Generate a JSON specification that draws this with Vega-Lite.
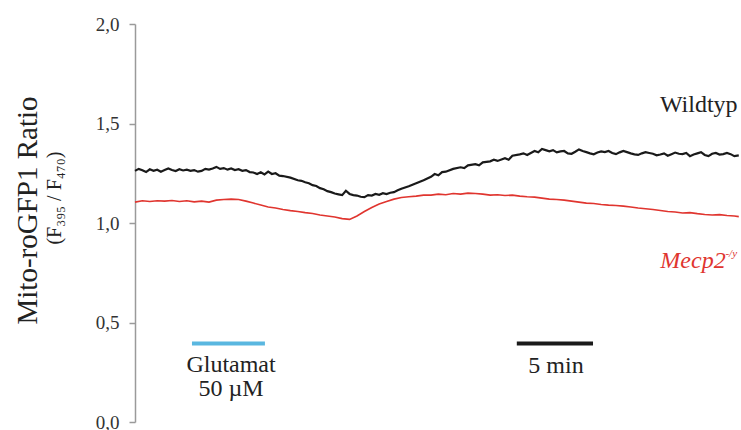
{
  "$schema": "https://vega.github.io/schema/vega-lite/v6.json",
  "width": 606,
  "height": 398,
  "autosize": {"type": "none"},
  "padding": {"left": 135, "top": 24, "right": 0, "bottom": 8},
  "background": "white",
  "config": {
    "view": {"stroke": null},
    "font": "Liberation Serif, Times New Roman, DejaVu Serif, serif",
    "text": {"font": "Liberation Serif, Times New Roman, DejaVu Serif, serif"}
  },
  "datasets": {
    "wild": [
      {"t": 0, "v": 1.262}, {"t": 0.25, "v": 1.272}, {"t": 0.5, "v": 1.265}, {"t": 0.75, "v": 1.256}, {"t": 1, "v": 1.27},
      {"t": 1.25, "v": 1.262}, {"t": 1.5, "v": 1.268}, {"t": 1.75, "v": 1.258}, {"t": 2, "v": 1.266}, {"t": 2.25, "v": 1.274},
      {"t": 2.5, "v": 1.266}, {"t": 2.75, "v": 1.261}, {"t": 3, "v": 1.27}, {"t": 3.25, "v": 1.264}, {"t": 3.5, "v": 1.268},
      {"t": 3.75, "v": 1.262}, {"t": 4, "v": 1.266}, {"t": 4.25, "v": 1.258}, {"t": 4.5, "v": 1.262}, {"t": 4.75, "v": 1.272},
      {"t": 5, "v": 1.268}, {"t": 5.25, "v": 1.274}, {"t": 5.5, "v": 1.282}, {"t": 5.75, "v": 1.272}, {"t": 6, "v": 1.276},
      {"t": 6.25, "v": 1.268}, {"t": 6.5, "v": 1.274}, {"t": 6.75, "v": 1.266}, {"t": 7, "v": 1.27}, {"t": 7.25, "v": 1.262},
      {"t": 7.5, "v": 1.266}, {"t": 7.75, "v": 1.256}, {"t": 8, "v": 1.254}, {"t": 8.25, "v": 1.246}, {"t": 8.5, "v": 1.255},
      {"t": 8.75, "v": 1.244}, {"t": 9, "v": 1.258}, {"t": 9.25, "v": 1.246}, {"t": 9.5, "v": 1.25}, {"t": 9.75, "v": 1.238},
      {"t": 10, "v": 1.236}, {"t": 10.5, "v": 1.228}, {"t": 11, "v": 1.215}, {"t": 11.25, "v": 1.212}, {"t": 11.5, "v": 1.205},
      {"t": 11.75, "v": 1.2}, {"t": 12, "v": 1.19}, {"t": 12.25, "v": 1.186}, {"t": 12.5, "v": 1.175}, {"t": 12.75, "v": 1.17},
      {"t": 13, "v": 1.16}, {"t": 13.25, "v": 1.155}, {"t": 13.5, "v": 1.148}, {"t": 13.75, "v": 1.144},
      {"t": 14, "v": 1.14}, {"t": 14.25, "v": 1.162}, {"t": 14.5, "v": 1.146}, {"t": 14.75, "v": 1.14}, {"t": 15, "v": 1.138},
      {"t": 15.25, "v": 1.132}, {"t": 15.5, "v": 1.13}, {"t": 15.75, "v": 1.14}, {"t": 16, "v": 1.138}, {"t": 16.25, "v": 1.146},
      {"t": 16.5, "v": 1.142}, {"t": 16.75, "v": 1.15}, {"t": 17, "v": 1.145}, {"t": 17.25, "v": 1.152}, {"t": 17.5, "v": 1.155},
      {"t": 17.75, "v": 1.164}, {"t": 18, "v": 1.172}, {"t": 18.5, "v": 1.185}, {"t": 19, "v": 1.2}, {"t": 19.5, "v": 1.215},
      {"t": 20, "v": 1.232}, {"t": 20.25, "v": 1.246}, {"t": 20.5, "v": 1.24}, {"t": 20.75, "v": 1.256}, {"t": 21, "v": 1.258},
      {"t": 21.5, "v": 1.272}, {"t": 22, "v": 1.28}, {"t": 22.25, "v": 1.276}, {"t": 22.5, "v": 1.29}, {"t": 23, "v": 1.296},
      {"t": 23.25, "v": 1.29}, {"t": 23.5, "v": 1.305}, {"t": 24, "v": 1.31}, {"t": 24.25, "v": 1.318}, {"t": 24.5, "v": 1.312},
      {"t": 25, "v": 1.326}, {"t": 25.25, "v": 1.318}, {"t": 25.5, "v": 1.338}, {"t": 26, "v": 1.345}, {"t": 26.25, "v": 1.35},
      {"t": 26.5, "v": 1.342}, {"t": 27, "v": 1.362}, {"t": 27.25, "v": 1.355}, {"t": 27.5, "v": 1.372}, {"t": 27.75, "v": 1.366},
      {"t": 28, "v": 1.36}, {"t": 28.25, "v": 1.366}, {"t": 28.5, "v": 1.355}, {"t": 28.75, "v": 1.36}, {"t": 29, "v": 1.362},
      {"t": 29.25, "v": 1.35}, {"t": 29.5, "v": 1.348}, {"t": 29.75, "v": 1.358}, {"t": 30, "v": 1.37}, {"t": 30.25, "v": 1.362},
      {"t": 30.5, "v": 1.356}, {"t": 30.75, "v": 1.35}, {"t": 31, "v": 1.345}, {"t": 31.25, "v": 1.354}, {"t": 31.5, "v": 1.36},
      {"t": 31.75, "v": 1.356}, {"t": 32, "v": 1.362}, {"t": 32.25, "v": 1.352}, {"t": 32.5, "v": 1.346}, {"t": 32.75, "v": 1.355},
      {"t": 33, "v": 1.362}, {"t": 33.25, "v": 1.356}, {"t": 33.5, "v": 1.35}, {"t": 33.75, "v": 1.345}, {"t": 34, "v": 1.342},
      {"t": 34.25, "v": 1.35}, {"t": 34.5, "v": 1.356}, {"t": 34.75, "v": 1.352}, {"t": 35, "v": 1.348}, {"t": 35.25, "v": 1.34},
      {"t": 35.5, "v": 1.344}, {"t": 35.75, "v": 1.35}, {"t": 36, "v": 1.338}, {"t": 36.25, "v": 1.346}, {"t": 36.5, "v": 1.354},
      {"t": 36.75, "v": 1.348}, {"t": 37, "v": 1.346}, {"t": 37.25, "v": 1.352}, {"t": 37.5, "v": 1.336}, {"t": 37.75, "v": 1.344},
      {"t": 38, "v": 1.35}, {"t": 38.25, "v": 1.356}, {"t": 38.5, "v": 1.342}, {"t": 38.75, "v": 1.336}, {"t": 39, "v": 1.348},
      {"t": 39.25, "v": 1.352}, {"t": 39.5, "v": 1.344}, {"t": 39.75, "v": 1.346}, {"t": 40, "v": 1.352}, {"t": 40.25, "v": 1.346},
      {"t": 40.5, "v": 1.336}, {"t": 40.8, "v": 1.34}
    ],
    "mecp": [
      {"t": 0, "v": 1.105}, {"t": 0.5, "v": 1.112}, {"t": 1, "v": 1.108}, {"t": 1.5, "v": 1.112},
      {"t": 2, "v": 1.11}, {"t": 2.5, "v": 1.113}, {"t": 3, "v": 1.108}, {"t": 3.5, "v": 1.112},
      {"t": 4, "v": 1.106}, {"t": 4.5, "v": 1.11}, {"t": 5, "v": 1.105}, {"t": 5.5, "v": 1.115},
      {"t": 6, "v": 1.118}, {"t": 6.5, "v": 1.12}, {"t": 7, "v": 1.118}, {"t": 7.5, "v": 1.11},
      {"t": 8, "v": 1.1}, {"t": 8.5, "v": 1.09}, {"t": 9, "v": 1.08}, {"t": 9.5, "v": 1.075},
      {"t": 10, "v": 1.068}, {"t": 10.5, "v": 1.062}, {"t": 11, "v": 1.058}, {"t": 11.5, "v": 1.052},
      {"t": 12, "v": 1.048}, {"t": 12.5, "v": 1.04}, {"t": 13, "v": 1.035}, {"t": 13.5, "v": 1.03},
      {"t": 14, "v": 1.022}, {"t": 14.5, "v": 1.018}, {"t": 15, "v": 1.035}, {"t": 15.5, "v": 1.058},
      {"t": 16, "v": 1.078}, {"t": 16.5, "v": 1.095}, {"t": 17, "v": 1.108}, {"t": 17.5, "v": 1.12},
      {"t": 18, "v": 1.128}, {"t": 18.5, "v": 1.132}, {"t": 19, "v": 1.135}, {"t": 19.5, "v": 1.14},
      {"t": 20, "v": 1.14}, {"t": 20.5, "v": 1.145}, {"t": 21, "v": 1.142}, {"t": 21.5, "v": 1.148},
      {"t": 22, "v": 1.145}, {"t": 22.5, "v": 1.15}, {"t": 23, "v": 1.148}, {"t": 23.5, "v": 1.145},
      {"t": 24, "v": 1.14}, {"t": 24.5, "v": 1.142}, {"t": 25, "v": 1.138}, {"t": 25.5, "v": 1.14},
      {"t": 26, "v": 1.135}, {"t": 26.5, "v": 1.132}, {"t": 27, "v": 1.13}, {"t": 27.5, "v": 1.125},
      {"t": 28, "v": 1.12}, {"t": 28.5, "v": 1.118}, {"t": 29, "v": 1.115}, {"t": 29.5, "v": 1.11},
      {"t": 30, "v": 1.105}, {"t": 30.5, "v": 1.1}, {"t": 31, "v": 1.098}, {"t": 31.5, "v": 1.093},
      {"t": 32, "v": 1.09}, {"t": 32.5, "v": 1.088}, {"t": 33, "v": 1.085}, {"t": 33.5, "v": 1.08},
      {"t": 34, "v": 1.075}, {"t": 34.5, "v": 1.072}, {"t": 35, "v": 1.068}, {"t": 35.5, "v": 1.063},
      {"t": 36, "v": 1.058}, {"t": 36.5, "v": 1.055}, {"t": 37, "v": 1.05}, {"t": 37.5, "v": 1.052},
      {"t": 38, "v": 1.047}, {"t": 38.5, "v": 1.043}, {"t": 39, "v": 1.04}, {"t": 39.5, "v": 1.042},
      {"t": 40, "v": 1.038}, {"t": 40.5, "v": 1.035}, {"t": 40.8, "v": 1.032}
    ]
  },
  "layer": [
    {
      "data": {"name": "wild"},
      "mark": {"type": "line", "color": "#1a1a1a", "strokeWidth": 2.2},
      "encoding": {
        "x": {"field": "t", "type": "quantitative", "scale": {"domain": [0, 40.95], "nice": false, "zero": false}, "axis": null},
        "y": {
          "field": "v", "type": "quantitative",
          "scale": {"domain": [0, 2], "nice": false},
          "axis": {
            "values": [0, 0.5, 1, 1.5, 2],
            "labelExpr": "replace(format(datum.value, '.1f'), '.', ',')",
            "grid": false,
            "domainColor": "#9a9a9a", "domainWidth": 1.5,
            "tickColor": "#9a9a9a", "tickSize": 6, "tickWidth": 1.5,
            "labelFont": "Liberation Serif, Times New Roman, DejaVu Serif, serif", "labelFontSize": 19, "labelColor": "#333333", "labelPadding": 10,
            "title": "Mito-roGFP1 Ratio",
            "titleFont": "Liberation Serif, Times New Roman, DejaVu Serif, serif", "titleFontSize": 29, "titleFontWeight": "normal", "titleColor": "#222222",
            "titleAngle": 270, "titleAlign": "center", "titleBaseline": "alphabetic",
            "titleX": -99, "titleY": 186
          }
        }
      }
    },
    {
      "data": {"name": "mecp"},
      "mark": {"type": "line", "color": "#e0352f", "strokeWidth": 1.6},
      "encoding": {
        "x": {"field": "t", "type": "quantitative"},
        "y": {"field": "v", "type": "quantitative"}
      }
    },
    {
      "data": {"values": [{"a": 3.85, "b": 8.78, "y": 0.395}]},
      "mark": {"type": "rule", "color": "#5ab7e0", "strokeWidth": 4},
      "encoding": {
        "x": {"field": "a", "type": "quantitative"},
        "x2": {"field": "b"},
        "y": {"field": "y", "type": "quantitative"}
      }
    },
    {
      "data": {"values": [{"a": 25.8, "b": 30.95, "y": 0.395}]},
      "mark": {"type": "rule", "color": "#1a1a1a", "strokeWidth": 4},
      "encoding": {
        "x": {"field": "a", "type": "quantitative"},
        "x2": {"field": "b"},
        "y": {"field": "y", "type": "quantitative"}
      }
    },
    {
      "data": {"values": [
        {"x": 6.49, "y": 0.25, "label": "Glutamat"},
        {"x": 6.49, "y": 0.13, "label": "50 µM"},
        {"x": 28.45, "y": 0.245, "label": "5 min"}
      ]},
      "mark": {"type": "text", "fontSize": 24, "color": "#222222", "align": "center", "baseline": "alphabetic"},
      "encoding": {
        "x": {"field": "x", "type": "quantitative"},
        "y": {"field": "y", "type": "quantitative"},
        "text": {"field": "label"}
      }
    },
    {
      "data": {"values": [{"x": 35.47, "y": 1.56, "label": "Wildtyp"}]},
      "mark": {"type": "text", "fontSize": 24, "color": "#222222", "align": "left", "baseline": "alphabetic"},
      "encoding": {
        "x": {"field": "x", "type": "quantitative"},
        "y": {"field": "y", "type": "quantitative"},
        "text": {"field": "label"}
      }
    },
    {
      "data": {"values": [{"x": 35.5, "y": 0.775, "label": "Mecp2"}]},
      "mark": {"type": "text", "fontSize": 24, "fontStyle": "italic", "color": "#e0352f", "align": "left", "baseline": "alphabetic"},
      "encoding": {
        "x": {"field": "x", "type": "quantitative"},
        "y": {"field": "y", "type": "quantitative"},
        "text": {"field": "label"}
      }
    },
    {
      "data": {"values": [{"x": 39.9, "y": 0.83, "label": "-/y"}]},
      "mark": {"type": "text", "fontSize": 11, "fontStyle": "italic", "color": "#e0352f", "align": "left", "baseline": "alphabetic"},
      "encoding": {
        "x": {"field": "x", "type": "quantitative"},
        "y": {"field": "y", "type": "quantitative"},
        "text": {"field": "label"}
      }
    },
    {
      "data": {"values": [{"x": -5.4, "y": 1.125, "label": "(F₃₉₅ / F₄₇₀)"}]},
      "mark": {"type": "text", "fontSize": 20, "color": "#222222", "align": "center", "baseline": "middle", "angle": 270},
      "encoding": {
        "x": {"field": "x", "type": "quantitative"},
        "y": {"field": "y", "type": "quantitative"},
        "text": {"field": "label"}
      }
    }
  ]
}
